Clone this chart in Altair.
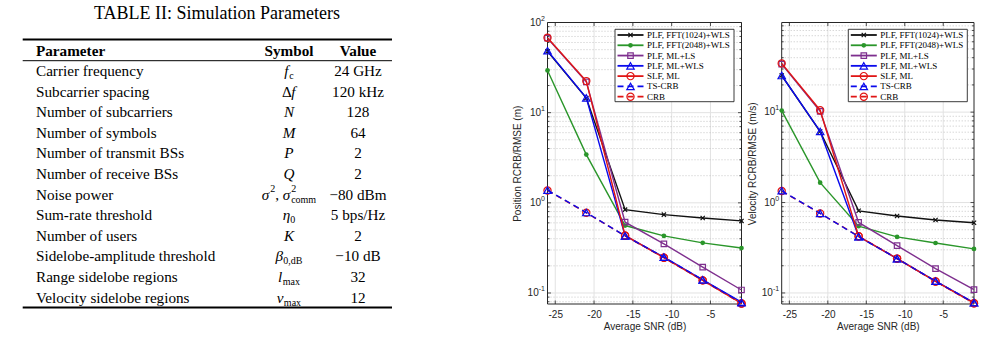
import math

import altair as alt
import pandas as pd

# ---------------------------------------------------------------------------
# Table II: simulation parameters
TABLE_TITLE = "TABLE II: Simulation Parameters"
HEADERS = ["Parameter", "Symbol", "Value"]
PARAMETERS = [
    "Carrier frequency", "Subcarrier spacing", "Number of subcarriers",
    "Number of symbols", "Number of transmit BSs", "Number of receive BSs",
    "Noise power", "Sum-rate threshold", "Number of users",
    "Sidelobe-amplitude threshold", "Range sidelobe regions",
    "Velocity sidelobe regions",
]
VALUES = ["24 GHz", "120 kHz", "128", "64", "2", "2", "\u221280 dBm",
          "5 bps/Hz", "2", "\u221210 dB", "32", "12"]
# math symbols as pieces: it = italic, rm = upright, sub / sup = scripts,
# sup0 = superscript stacked over the following subscript
SYMBOLS = [
    [("f", "it"), ("c", "sub")],
    [("\u0394", "rm"), ("f", "it")],
    [("N", "it")],
    [("M", "it")],
    [("P", "it")],
    [("Q", "it")],
    [("\u03c3", "it"), ("2", "sup"), (", ", "rm"), ("\u03c3", "it"), ("2", "sup0"), ("comm", "sub")],
    [("\u03b7", "it"), ("0", "sub")],
    [("K", "it")],
    [("\u03b2", "it"), ("0,dB", "sub")],
    [("l", "it"), ("max", "sub")],
    [("\u03bd", "it"), ("max", "sub")],
]

# ---------------------------------------------------------------------------
# RCRB / RMSE versus average SNR
SNR_DB = [-26, -21, -16, -11, -6, -1]
SERIES = ["PLF, FFT(1024)+WLS", "PLF, FFT(2048)+WLS", "PLF, ML+LS",
          "PLF, ML+WLS", "SLF, ML", "TS-CRB", "CRB"]

POS_FFT1024 = [48.0, 14.5, 0.84, 0.74, 0.68, 0.63]
POS_FFT2048 = [29.4, 3.43, 0.56, 0.43, 0.36, 0.315]
POS_ML_LS = [67.0, 22.0, 0.61, 0.35, 0.194, 0.108]
POS_ML_WLS = [48.6, 14.6, 0.43, 0.25, 0.14, 0.079]
POS_SLF_ML = [67.8, 22.4, 0.435, 0.246, 0.138, 0.0765]
POS_TS_CRB = [1.38, 0.78, 0.43, 0.25, 0.14, 0.078]
POS_CRB = [1.37, 0.775, 0.43, 0.246, 0.138, 0.0765]

VEL_FFT1024 = [25.4, 6.1, 0.81, 0.71, 0.64, 0.597]
VEL_FFT2048 = [10.4, 1.66, 0.548, 0.417, 0.357, 0.307]
VEL_ML_LS = [34.0, 10.2, 0.603, 0.334, 0.186, 0.109]
VEL_ML_WLS = [25.4, 6.12, 0.42, 0.24, 0.135, 0.078]
VEL_SLF_ML = [34.6, 10.5, 0.424, 0.24, 0.134, 0.077]
VEL_TS_CRB = [1.35, 0.76, 0.42, 0.24, 0.135, 0.078]
VEL_CRB = [1.34, 0.758, 0.424, 0.24, 0.134, 0.077]

POSITION = dict(zip(SERIES, [POS_FFT1024, POS_FFT2048, POS_ML_LS, POS_ML_WLS,
                             POS_SLF_ML, POS_TS_CRB, POS_CRB]))
VELOCITY = dict(zip(SERIES, [VEL_FFT1024, VEL_FFT2048, VEL_ML_LS, VEL_ML_WLS,
                             VEL_SLF_ML, VEL_TS_CRB, VEL_CRB]))

# ---------------------------------------------------------------------------
# styling
SERIF = "Liberation Serif"
SANS = "Liberation Sans"
INK = "#262626"
X_MARK = "M-1,-1L1,1M1,-1L-1,1"
STYLE = {
    "PLF, FFT(1024)+WLS": dict(color="#111111", dash=None, shape=X_MARK, filled=False, size=18),
    "PLF, FFT(2048)+WLS": dict(color="#2a962a", dash=None, shape="circle", filled=True, size=22),
    "PLF, ML+LS": dict(color="#7e2f8e", dash=None, shape="square", filled=False, size=30),
    "PLF, ML+WLS": dict(color="#0a0aec", dash=None, shape="triangle-up", filled=False, size=55),
    "SLF, ML": dict(color="#e01515", dash=None, shape="circle", filled=False, size=52),
    "TS-CRB": dict(color="#0a0aec", dash=[6, 4], shape="triangle-up", filled=False, size=55),
    "CRB": dict(color="#e01515", dash=[6, 4], shape="circle", filled=False, size=52),
}
# drawing order inside the plots (bound curve in blue on top)
DRAW_ORDER = ["PLF, FFT(1024)+WLS", "PLF, FFT(2048)+WLS", "PLF, ML+LS",
              "PLF, ML+WLS", "SLF, ML", "CRB", "TS-CRB"]

VIEW_W, VIEW_H = 985, 351
ONE = pd.DataFrame({"k": [0]})


def marker(st, **extra):
    kw = dict(shape=st["shape"], size=st["size"], filled=st["filled"],
              color=st["color"], strokeWidth=1.2, opacity=1)
    kw.update(extra)
    return kw


def line_props(st, width):
    kw = dict(color=st["color"], strokeWidth=width)
    if st["dash"]:
        kw["strokeDash"] = st["dash"]
    return kw


# ---------------------------------------------------------------------------
# table
FONT = 15.2
SCRIPT = FONT * 0.66
PARAM_X, SYMBOL_X, VALUE_X = 36, 289, 358
RULE_X0, RULE_X1 = 22.7, 392
EM = {"f": 0.32, "c": 0.444, "\u0394": 0.61, "N": 0.667, "M": 0.833, "P": 0.611,
      "Q": 0.722, "\u03c3": 0.55, "2": 0.5, ",": 0.25, " ": 0.25, "o": 0.5,
      "m": 0.778, "\u03b7": 0.5, "0": 0.5, "K": 0.667, "\u03b2": 0.52, "d": 0.5,
      "B": 0.667, "l": 0.3, "a": 0.444, "x": 0.5, "\u03bd": 0.46}


def place_symbol(pieces, center):
    placed, x = [], 0.0
    for text, role in pieces:
        size = FONT if role in ("it", "rm") else SCRIPT
        w = sum(EM.get(ch, 0.5) for ch in text) * size
        placed.append((text, role, x))
        if role != "sup0":
            x += w
    start = center - x / 2
    return [(t, r, start + px) for t, r, px in placed]


sym_rows = []
for i, pieces in enumerate(SYMBOLS):
    for t, r, px in place_symbol(pieces, SYMBOL_X):
        sym_rows.append({"row": i, "text": t, "role": r, "px": px})
sym_df = pd.DataFrame(sym_rows)
rows_df = pd.DataFrame({"row": list(range(len(PARAMETERS))),
                        "param": PARAMETERS, "value": VALUES})

row_y = alt.Y("row:Q", axis=None,
              scale=alt.Scale(domain=[0, len(PARAMETERS) - 1], range=[71, 297.5]))
piece_x = alt.X("px:Q", scale=None, axis=None)


def header(text, x, align):
    return (alt.Chart(ONE)
            .mark_text(text=text, font=SERIF, fontSize=FONT, fontWeight="bold",
                       align=align, baseline="middle", color="black")
            .encode(x=alt.value(x), y=alt.value(51)))


def table_rule(y, width):
    return (alt.Chart(ONE).mark_rule(color="black", strokeWidth=width)
            .encode(x=alt.value(RULE_X0), x2=alt.value(RULE_X1), y=alt.value(y)))


table_layers = [
    alt.Chart(ONE).mark_text(text=TABLE_TITLE, font=SERIF, fontSize=18, color="black",
                             align="center", baseline="middle")
    .encode(x=alt.value(217), y=alt.value(14)),
    table_rule(39.5, 2), table_rule(60.7, 1), table_rule(307.5, 2),
    header(HEADERS[0], PARAM_X, "left"),
    header(HEADERS[1], SYMBOL_X, "center"),
    header(HEADERS[2], VALUE_X, "center"),
    alt.Chart(rows_df).mark_text(font=SERIF, fontSize=FONT, align="left",
                                 baseline="middle", color="black")
    .encode(x=alt.value(PARAM_X), y=row_y, text="param:N"),
    alt.Chart(rows_df).mark_text(font=SERIF, fontSize=FONT, align="center",
                                 baseline="middle", color="black")
    .encode(x=alt.value(VALUE_X), y=row_y, text="value:N"),
]
for roles, kw in [(["it"], dict(fontStyle="italic", fontSize=FONT)),
                  (["rm"], dict(fontSize=FONT)),
                  (["sub"], dict(fontSize=SCRIPT, dy=5)),
                  (["sup", "sup0"], dict(fontSize=SCRIPT, dy=-5.8))]:
    table_layers.append(
        alt.Chart(sym_df).transform_filter(alt.FieldOneOfPredicate(field="role", oneOf=roles))
        .mark_text(font=SERIF, align="left", baseline="middle", color="black", **kw)
        .encode(x=piece_x, y=row_y, text="text:N")
    )
table = alt.layer(*table_layers)

# ---------------------------------------------------------------------------
# plots
PLOT_TOP, PLOT_BOTTOM = 22.5, 304.0
X_DOMAIN = [-26, -1]
X_TICKS = [-25, -20, -15, -10, -5]
Y_BOTTOM = 0.0755


def panel(data, x0, x1, y_top, y_title, title_center):
    xs = alt.Scale(domain=X_DOMAIN, range=[x0, x1], nice=False, zero=False)
    ys = alt.Scale(type="log", domain=[Y_BOTTOM, y_top],
                   range=[PLOT_BOTTOM, PLOT_TOP], nice=False)
    x_axis = alt.Axis(orient="bottom", offset=PLOT_BOTTOM - VIEW_H, values=X_TICKS,
                      labelExpr="'' + datum.value", ticks=False, tickSize=0, domain=False,
                      grid=False, labelFont=SANS, labelFontSize=10, labelColor=INK,
                      labelBaseline="middle", labelPadding=10, labelFlush=False,
                      title="Average SNR (dB)", titleFont=SANS, titleFontSize=10,
                      titleFontWeight="normal", titleColor=INK, titleY=22,
                      titleBaseline="middle")
    y_axis = alt.Axis(orient="left", offset=-x0, labels=False, ticks=False, tickSize=0,
                      domain=False, grid=False, title=y_title, titleFont=SANS,
                      titleFontSize=10, titleFontWeight="normal", titleColor=INK,
                      titleX=title_center - x0, titleBaseline="middle")

    def X():
        return alt.X("snr:Q", scale=xs, axis=x_axis)

    def Y():
        return alt.Y("val:Q", scale=ys, axis=y_axis)

    decades = [d for d in [0.1, 1, 10, 100] if d <= y_top]
    minors = [k * 10.0 ** e for e in (-2, -1, 0, 1) for k in range(2, 10)]
    minors = [m for m in minors if Y_BOTTOM < m < y_top]

    layers = []
    # grid
    layers.append(alt.Chart(pd.DataFrame({"snr": X_TICKS, "val": Y_BOTTOM, "val2": y_top}))
                  .mark_rule(color="#e2e2e2", strokeWidth=1)
                  .encode(x=X(), y=Y(), y2="val2"))
    layers.append(alt.Chart(pd.DataFrame({"val": minors, "snr": X_DOMAIN[0], "snr2": X_DOMAIN[1]}))
                  .mark_rule(color="#b8b8b8", strokeWidth=0.8, strokeDash=[1, 2])
                  .encode(x=X(), x2="snr2", y=Y()))
    layers.append(alt.Chart(pd.DataFrame({"val": decades, "snr": X_DOMAIN[0], "snr2": X_DOMAIN[1]}))
                  .mark_rule(color="#e2e2e2", strokeWidth=1)
                  .encode(x=X(), x2="snr2", y=Y()))
    # box
    layers.append(alt.Chart(pd.DataFrame({"val": [Y_BOTTOM, y_top], "snr": X_DOMAIN[0],
                                          "snr2": X_DOMAIN[1]}))
                  .mark_rule(color=INK, strokeWidth=1)
                  .encode(x=X(), x2="snr2", y=Y()))
    layers.append(alt.Chart(pd.DataFrame({"snr": X_DOMAIN, "val": Y_BOTTOM, "val2": y_top}))
                  .mark_rule(color=INK, strokeWidth=1)
                  .encode(x=X(), y=Y(), y2="val2"))
    # inward ticks
    for vals, length in [(decades, 3.5), (minors, 2.0)]:
        df = pd.DataFrame({"val": vals})
        layers.append(alt.Chart(df).mark_rule(color=INK, strokeWidth=0.8)
                      .encode(y=Y(), x=alt.value(x0), x2=alt.value(x0 + length)))
        layers.append(alt.Chart(df).mark_rule(color=INK, strokeWidth=0.8)
                      .encode(y=Y(), x=alt.value(x1 - length), x2=alt.value(x1)))
    tick_df = pd.DataFrame({"snr": X_TICKS})
    layers.append(alt.Chart(tick_df).mark_rule(color=INK, strokeWidth=0.8)
                  .encode(x=X(), y=alt.value(PLOT_BOTTOM - 3.5), y2=alt.value(PLOT_BOTTOM)))
    layers.append(alt.Chart(tick_df).mark_rule(color=INK, strokeWidth=0.8)
                  .encode(x=X(), y=alt.value(PLOT_TOP), y2=alt.value(PLOT_TOP + 3.5)))
    # decade labels 10^k
    lab = pd.DataFrame({"val": decades,
                        "exp": ["%d" % round(math.log10(d)) for d in decades]})
    layers.append(alt.Chart(lab).mark_text(font=SANS, fontSize=7, color=INK, align="right",
                                           baseline="middle", dy=-4)
                  .encode(x=alt.value(x0 - 2.5), y=Y(), text="exp:N"))
    for neg, shift in [(False, 6.4), (True, 8.8)]:
        sub = lab[lab["exp"].str.startswith("-") == neg]
        if len(sub):
            layers.append(alt.Chart(sub).mark_text(font=SANS, fontSize=10, color=INK,
                                                   align="right", baseline="middle")
                          .encode(x=alt.value(x0 - shift), y=Y(), text=alt.value("10")))
    # curves
    for name in DRAW_ORDER:
        st = STYLE[name]
        df = pd.DataFrame({"snr": SNR_DB, "val": data[name]})
        layers.append(alt.Chart(df).mark_line(**line_props(st, 1.4)).encode(x=X(), y=Y()))
        layers.append(alt.Chart(df).mark_point(**marker(st)).encode(x=X(), y=Y()))
    return alt.layer(*layers)


LEG_W, LEG_TOP, LEG_BOTTOM = 119, 29.3, 101.7
LEG_ROW0, LEG_STEP = 35.0, 10.28


def legend(x0):
    layers = [alt.Chart(ONE).mark_rect(fill="white", stroke=INK, strokeWidth=0.9)
              .encode(x=alt.value(x0), x2=alt.value(x0 + LEG_W),
                      y=alt.value(LEG_TOP), y2=alt.value(LEG_BOTTOM))]
    for i, name in enumerate(SERIES):
        st = STYLE[name]
        y = LEG_ROW0 + i * LEG_STEP
        layers.append(alt.Chart(ONE).mark_rule(**line_props(st, 1.8))
                      .encode(x=alt.value(x0 + 2.5), x2=alt.value(x0 + 28.5), y=alt.value(y)))
        layers.append(alt.Chart(ONE).mark_point(**marker(st))
                      .encode(x=alt.value(x0 + 15.5), y=alt.value(y)))
        layers.append(alt.Chart(ONE).mark_text(text=name, font=SERIF, fontSize=9, color="black",
                                               align="left", baseline="middle")
                      .encode(x=alt.value(x0 + 32), y=alt.value(y)))
    return alt.layer(*layers)


pos_panel = panel(POSITION, 547.5, 741.5, 100, "Position RCRB/RMSE (m)", 517.5)
vel_panel = panel(VELOCITY, 781.7, 974.0, 98, "Velocity RCRB/RMSE (m/s)", 752.0)

chart = (
    alt.layer(table, pos_panel, vel_panel, legend(615.0), legend(848.3))
    .resolve_scale(x="independent", y="independent")
    .properties(width=VIEW_W, height=VIEW_H, padding=0, background="white",
                autosize=alt.AutoSizeParams(type="none"))
    .configure_view(stroke=None)
)

chart.save("out.html", embed_options={"renderer": "svg", "actions": False})
